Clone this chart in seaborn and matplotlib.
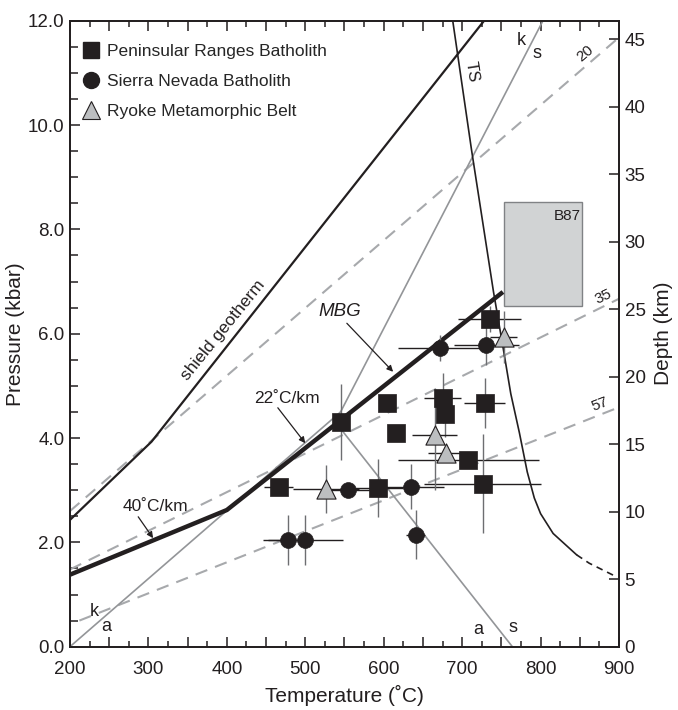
import numpy as np
import pandas as pd
import matplotlib
matplotlib.use('Agg')
import matplotlib.pyplot as plt
from matplotlib.patches import Rectangle
from matplotlib.lines import Line2D
from matplotlib.ticker import MultipleLocator, FuncFormatter
import seaborn as sns

sns.set_theme(style='ticks')
plt.rcParams['font.family'] = ['Liberation Sans', 'DejaVu Sans']

# Peninsular Ranges Batholith (squares)
prb_T = [735, 675, 678, 729, 604, 616, 708, 726, 545, 466, 593]
prb_P = [6.29, 4.76, 4.47, 4.68, 4.67, 4.10, 3.57, 3.12, 4.31, 3.07, 3.04]
prb_Terr = [40, 23, 0, 26, 0, 0, 90, 75, 0, 18, 31]
prb_Perr = [0.25, 0.48, 0.45, 0.48, 0, 0, 0, 0.95, 0.73, 0, 0.55]

# Sierra Nevada Batholith (circles)
snb_T = [731, 672, 635, 555, 478, 500, 641]
snb_P = [5.78, 5.72, 3.07, 3.00, 2.05, 2.05, 2.15]
snb_Terr = [41, 54, 42, 28, 32, 48, 12]
snb_Perr = [0.38, 0.25, 0.43, 0, 0.48, 0.48, 0.47]

# Ryoke Metamorphic Belt (triangles)
rmb_T = [753, 665, 679, 526]
rmb_P = [5.94, 4.06, 3.72, 3.02]
rmb_Terr = [17, 29, 23, 42]
rmb_Plo = [0.5, 1.06, 0.15, 0.46]
rmb_Phi = [0.5, 0.55, 0.15, 0.46]

# curves
shield_T = [200, 304, 728]
shield_P = [2.43, 3.93, 12.0]
mbg_T = [200, 300, 400, 752]
mbg_P = [1.38, 2.00, 2.62, 6.80]
ts_T = [688, 712, 740, 752, 762, 773, 783, 792, 800, 816, 846]
ts_P = [12.0, 9.52, 6.80, 5.75, 4.85, 4.10, 3.35, 2.85, 2.55, 2.17, 1.76]
ts_dash_T = [846, 862, 898]
ts_dash_P = [1.76, 1.60, 1.33]
kya_T = [200, 545]
kya_P = [0.0, 4.50]
kys_T = [545, 803]
kys_P = [4.50, 12.0]
ans_T = [545, 764]
ans_P = [4.18, 0.0]
g20_T = [200, 900]
g20_P = [2.60, 11.68]
g35_T = [200, 900]
g35_P = [1.48, 6.67]
g57_T = [212, 900]
g57_P = [0.50, 4.59]
b87_T = [753.7, 852.8]
b87_P = [6.54, 8.52]

depth_per_kbar = 3.864

black = '#231f20'
grey_line = '#939598'
grey_dash = '#a7a9ac'

fig = plt.figure(figsize=(6.78, 7.10), dpi=100)
ax = fig.add_axes([0.1032, 0.0892, 0.8098, 0.8816])

# reference lines
for xs, ys in [(g20_T, g20_P), (g35_T, g35_P), (g57_T, g57_P)]:
    sns.lineplot(x=xs, y=ys, ax=ax, color=grey_dash, lw=1.5, zorder=1).lines[-1].set_dashes((6, 4))
for xs, ys in [(kya_T, kya_P), (kys_T, kys_P), (ans_T, ans_P)]:
    ax.plot(xs, ys, color=grey_line, lw=1.2, zorder=2)
ax.plot(shield_T, shield_P, color=black, lw=1.6, zorder=3)
ax.plot(mbg_T, mbg_P, color=black, lw=3.2, solid_capstyle='butt', zorder=3)
ax.plot(ts_T, ts_P, color=black, lw=1.2, zorder=3)
ax.plot(ts_dash_T, ts_dash_P, color=black, lw=1.2, dashes=(4, 3), zorder=3)

ax.add_patch(Rectangle((b87_T[0], b87_P[0]), b87_T[1] - b87_T[0], b87_P[1] - b87_P[0],
                       facecolor='#d1d3d4', edgecolor='#808285', lw=1.0, zorder=2))
ax.text(b87_T[1] - 2, b87_P[1] - 0.12, 'B87', ha='right', va='top', fontsize=11, color=black)

# error bars
def bars(T, P, terr, plo, phi):
    ax.errorbar(T, P, xerr=terr, fmt='none', ecolor=black, elinewidth=1.0, capsize=0, zorder=4)
    ax.errorbar(T, P, yerr=[plo, phi], fmt='none', ecolor='#6d6e71', elinewidth=1.0, capsize=0, zorder=4)

bars(prb_T, prb_P, prb_Terr, prb_Perr, prb_Perr)
bars(snb_T, snb_P, snb_Terr, snb_Perr, snb_Perr)
bars(rmb_T, rmb_P, rmb_Terr, rmb_Plo, rmb_Phi)

sns.scatterplot(x=prb_T, y=prb_P, ax=ax, marker='s', s=150, color=black, edgecolor=black, linewidth=0.5, zorder=6)
sns.scatterplot(x=snb_T, y=snb_P, ax=ax, marker='o', s=130, color=black, edgecolor=black, linewidth=0.5, zorder=6)
sns.scatterplot(x=rmb_T, y=rmb_P, ax=ax, marker='^', s=190, color='#bcbec0', edgecolor=black, linewidth=0.8, zorder=6)

# labels on the diagram
ax.text(395, 6.06, 'shield geotherm', rotation=51, ha='center', va='center', fontsize=12.5, color=black,
        rotation_mode='anchor')
ax.text(712, 11.02, 'TS', rotation=-81, ha='center', va='center', fontsize=12, color=black, rotation_mode='anchor')
ax.text(776, 11.63, 'k', ha='center', va='center', fontsize=13, color=black)
ax.text(796, 11.38, 's', ha='center', va='center', fontsize=13, color=black)
ax.text(231, 0.68, 'k', ha='center', va='center', fontsize=13, color=black)
ax.text(246, 0.38, 'a', ha='center', va='center', fontsize=13, color=black)
ax.text(720, 0.32, 'a', ha='center', va='center', fontsize=13, color=black)
ax.text(765, 0.36, 's', ha='center', va='center', fontsize=13, color=black)
ax.text(857, 11.37, '20', rotation=40, ha='center', va='center', fontsize=11, color=black, rotation_mode='anchor')
ax.text(880, 6.71, '35', rotation=26, ha='center', va='center', fontsize=11, color=black, rotation_mode='anchor')
ax.text(876, 4.65, '57', rotation=21, ha='center', va='center', fontsize=11, color=black, rotation_mode='anchor')

arrow = dict(arrowstyle='-|>', lw=0.9, color=black, mutation_scale=9, shrinkA=0, shrinkB=0)
ax.text(544, 6.42, 'MBG', style='italic', ha='center', va='center', fontsize=13.5, color=black)
ax.annotate('', xy=(612, 5.27), xytext=(553, 6.2), arrowprops=arrow)
ax.text(476, 4.76, '22˚C/km', ha='center', va='center', fontsize=12.5, color=black)
ax.annotate('', xy=(500, 3.9), xytext=(465, 4.58), arrowprops=arrow)
ax.text(309, 2.68, '40˚C/km', ha='center', va='center', fontsize=12.5, color=black)
ax.annotate('', xy=(306, 2.08), xytext=(287, 2.49), arrowprops=arrow)

# axes
ax.set_xlim(200, 900)
ax.set_ylim(0, 12)
ax.xaxis.set_major_locator(MultipleLocator(50))
ax.xaxis.set_minor_locator(MultipleLocator(25))
ax.xaxis.set_major_formatter(FuncFormatter(lambda v, p: '%d' % v if v % 100 == 0 else ''))
ax.yaxis.set_major_locator(MultipleLocator(2))
ax.yaxis.set_minor_locator(MultipleLocator(0.5))
ax.yaxis.set_major_formatter(FuncFormatter(lambda v, p: '%.1f' % v))
ax.tick_params(which='both', direction='in', top=True, right=False, width=1.1, colors=black,
               labelsize=13.5, pad=4)
ax.tick_params(axis='x', which='both', pad=10)
ax.tick_params(which='major', length=7)
ax.tick_params(which='minor', length=4)
ax.tick_params(axis='y', which='minor', length=6)
for s in ax.spines.values():
    s.set_linewidth(1.3)
    s.set_color(black)
ax.set_xlabel('Temperature (˚C)', fontsize=15, color=black, labelpad=5)
ax.set_ylabel('Pressure (kbar)', fontsize=15, color=black, labelpad=2)

ax2 = ax.twinx()
ax2.set_ylim(0, 12 * depth_per_kbar)
ax2.yaxis.set_major_locator(MultipleLocator(5))
ax2.tick_params(direction='in', length=7, width=1.1, colors=black, labelsize=13.5, pad=4)
for s in ax2.spines.values():
    s.set_linewidth(1.3)
    s.set_color(black)
ax2.set_ylabel('Depth (km)', fontsize=15, color=black, labelpad=6)

handles = [
    Line2D([], [], ls='none', marker='s', ms=12, color=black),
    Line2D([], [], ls='none', marker='o', ms=11.5, color=black),
    Line2D([], [], ls='none', marker='^', ms=13, markerfacecolor='#bcbec0', markeredgecolor=black, markeredgewidth=0.8),
]
labels = ['Peninsular Ranges Batholith', 'Sierra Nevada Batholith', 'Ryoke Metamorphic Belt']
ax.legend(handles, labels, loc='upper left', bbox_to_anchor=(0.016, 0.968), borderaxespad=0,
          borderpad=0.2, handlelength=1.0, handletextpad=0.4, labelspacing=0.85, frameon=False,
          fontsize=12.5)

fig.savefig('out.png', dpi=100)
